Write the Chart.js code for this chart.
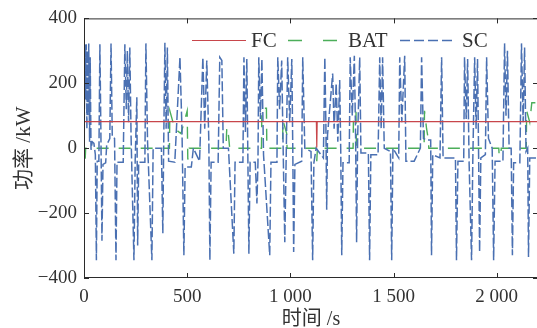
<!DOCTYPE html>
<html>
<head>
<meta charset="utf-8">
<script src="https://cdn.jsdelivr.net/npm/chart.js@4/dist/chart.umd.min.js"></script>
<style>
  html, body { margin: 0; padding: 0; background: #fff; overflow: hidden; }
  #wrap { width: 540px; height: 328px; position: relative; }
</style>
</head>
<body>
<div id="wrap"><canvas id="powerChart"></canvas></div>
<script>
// 燃料电池 FC 输出 (kW)
const fcTime  = [0, 1126, 1127, 1129, 1130, 2200];
const fcPower = [82, 82, 2, 2, 82, 82];

// 蓄电池 BAT 输出 (kW)
const batTime  = [0, 6, 8, 414, 416, 440, 470, 500, 503, 510, 688, 692, 700, 706,
                  860, 862, 884, 886, 962, 964, 982, 984, 1126, 1128, 1131,
                  1304, 1306, 1318, 1320, 1648, 1650, 1660, 1668, 1671,
                  2010, 2012, 2020, 2022, 2143, 2145, 2160, 2170, 2200];
const batPower = [-30, -30, 0, 0, 115, 60, 45, 115, -35, 0, 0, 65, 40, 0,
                  0, 123, 123, 0, 0, 86, 46, 0, 0, -40, 0,
                  0, 110, 110, 0, 0, 115, 60, 30, 0,
                  0, -25, -25, 0, 0, 115, 80, 140, 140];

// 超级电容 SC 输出 (kW)
const scTime  = [0, 5, 8, 11, 14, 17, 20, 23, 27, 30, 34, 40, 48, 55, 60, 64, 72, 77, 82, 87,
                 92, 105, 110, 125, 131, 137, 148, 155, 160, 190, 198, 205, 210, 216, 222, 228,
                 242, 248, 256, 260, 265, 295, 300, 308, 329, 335, 375, 382, 386, 392, 398, 404,
                 410, 440, 465, 475, 484, 490, 520, 530, 560, 576, 585, 595, 605, 610, 616, 650,
                 658, 668, 675, 700, 726, 732, 770, 775, 782, 789, 799, 805, 830, 838, 843, 847,
                 855, 862, 870, 900, 906, 935, 939, 948, 958, 965, 973, 980, 987, 997, 1007, 1012,
                 1016, 1022, 1055, 1060, 1070, 1100, 1108, 1114, 1125, 1160, 1167, 1172, 1176, 1180,
                 1205, 1212, 1222, 1230, 1239, 1244, 1249, 1255, 1285, 1290, 1300, 1310, 1316, 1321,
                 1326, 1336, 1342, 1378, 1384, 1390, 1425, 1433, 1440, 1447, 1455, 1485, 1491, 1497,
                 1525, 1530, 1540, 1554, 1560, 1600, 1630, 1636, 1645, 1660, 1680, 1684, 1690, 1725,
                 1733, 1740, 1775, 1800, 1805, 1812, 1840, 1844, 1852, 1859, 1866, 1878, 1884, 1893,
                 1900, 1907, 1912, 1917, 1923, 1945, 1951, 1960, 1978, 1985, 1992, 2030, 2038, 2045,
                 2052, 2060, 2070, 2076, 2082, 2112, 2120, 2128, 2135, 2142, 2150, 2154, 2160, 2200];
const scPower = [0, 320, 150, 320, 60, 300, 100, 323, 20, 280, -5, 20, 15, -20, -345, -40, -40, 320, 40, -285,
                 -50, -45, 10, 30, 323, 35, 30, -345, -43, -43, 320, 120, 300, 80, 310, 40,
                 -345, -40, 157, -300, -43, -43, 323, 20, -345, 0, 0, -262, 0, 325, 60, 310,
                 -40, -43, 280, 50, -330, -58, -58, 0, -40, 280, 60, 270, 20, -345, -43, -43,
                 280, 270, 0, 0, -325, -43, -43, 280, 50, 275, -325, -43, -43, -170, -43, 280,
                 90, 275, -20, -330, -43, -43, 280, 120, 270, 0, -290, -20, 280, 80, 275, -20,
                 -320, -50, -40, 280, 0, -10, -345, -45, 0, -30, 280, 80, -190, 40,
                 230, 60, 200, 20, 210, 0, -330, -45, -45, 280, 100, 285, 40, -290,
                 30, 280, -15, -15, -345, -20, -20, 280, 60, 280, 0, -10, -345, 0,
                 -30, 280, 80, 285, -40, -40, 0, 280, 30, 25, 25, -330, -20, -30,
                 280, -30, -30, -30, -345, -40, -40, 280, 90, 275, -40, -345, -40, 280,
                 60, 275, -10, -320, -30, -20, 280, 30, 0, -345, -40, -40, 323, 100,
                 300, 0, 0, -330, -45, -45, 323, 80, 310, -10, 0, -335, -30, -30];

const xTicks = [0, 500, 1000, 1500, 2000];
const xTickLabels = ['0', '500', '1 000', '1 500', '2 000'];
const yTicks = [-400, -200, 0, 200, 400];

const colors = {
    fc: '#c8464b',
    bat: '#4cae5a',
    sc: '#4a70b2',
    axis: '#2b2b2b'
};
const serif = "'Liberation Serif', 'DejaVu Serif', serif";
const cjk = "'Liberation Serif', 'Noto Sans CJK SC', serif";

const toPoints = (ts, vs) => ts.map((t, i) => ({ x: t, y: vs[i] }));

// 坐标框和朝内的刻度线
const framePlugin = {
    id: 'frame',
    afterDatasetsDraw(chart) {
        const { ctx, chartArea: a, scales } = chart;
        const len = 5;
        ctx.save();
        ctx.strokeStyle = colors.axis;
        ctx.lineWidth = 1;
        ctx.beginPath();
        ctx.rect(a.left + 0.5, a.top + 0.5, a.right - a.left - 1, a.bottom - a.top - 1);
        scales.x.ticks.forEach(t => {
            const px = Math.round(scales.x.getPixelForValue(t.value)) + 0.5;
            ctx.moveTo(px, a.bottom); ctx.lineTo(px, a.bottom - len);
            ctx.moveTo(px, a.top); ctx.lineTo(px, a.top + len);
        });
        scales.y.ticks.forEach(t => {
            const py = Math.round(scales.y.getPixelForValue(t.value)) + 0.5;
            ctx.moveTo(a.left, py); ctx.lineTo(a.left + len, py);
            ctx.moveTo(a.right, py); ctx.lineTo(a.right - len, py);
        });
        ctx.stroke();
        ctx.restore();
    }
};

// 图例画在绘图区内部上方
const legendPlugin = {
    id: 'innerLegend',
    afterDraw(chart) {
        const { ctx } = chart;
        const items = [
            { ds: chart.data.datasets[0], x0: 192, x1: 246, tx: 251 },
            { ds: chart.data.datasets[1], x0: 288, x1: 337, tx: 348 },
            { ds: chart.data.datasets[2], x0: 400, x1: 456, tx: 462 }
        ];
        const y = 40;
        ctx.save();
        ctx.fillStyle = '#fff';
        ctx.fillRect(186, 29, 308, 23);
        items.forEach(it => {
            ctx.strokeStyle = it.ds.borderColor;
            ctx.lineWidth = it.ds.borderWidth;
            ctx.setLineDash(it.ds.legendDash || []);
            ctx.beginPath();
            ctx.moveTo(it.x0, y + 0.5);
            ctx.lineTo(it.x1, y + 0.5);
            ctx.stroke();
            ctx.setLineDash([]);
            ctx.fillStyle = '#333';
            ctx.font = '21px ' + serif;
            ctx.textBaseline = 'middle';
            ctx.fillText(it.ds.label, it.tx, y + 1);
        });
        ctx.restore();
    }
};

new Chart(document.getElementById('powerChart'), {
    type: 'line',
    data: {
        datasets: [
            {
                label: 'FC',
                data: toPoints(fcTime, fcPower),
                borderColor: colors.fc,
                borderWidth: 1.2,
                order: 0
            },
            {
                label: 'BAT',
                data: toPoints(batTime, batPower),
                borderColor: colors.bat,
                borderWidth: 1.4,
                borderDash: [12, 10],
                legendDash: [14, 21],
                order: 2
            },
            {
                label: 'SC',
                data: toPoints(scTime, scPower),
                borderColor: colors.sc,
                borderWidth: 1.5,
                borderDash: [10, 3],
                legendDash: [10, 4],
                order: 1
            }
        ]
    },
    options: {
        responsive: true,
        maintainAspectRatio: false,
        animation: false,
        layout: { padding: { top: 18, right: 2, left: 0, bottom: 0 } },
        elements: { point: { radius: 0 }, line: { tension: 0, fill: false } },
        plugins: { legend: { display: false }, tooltip: { enabled: false } },
        scales: {
            x: {
                type: 'linear',
                min: 0,
                max: 2200,
                afterFit: s => { s.height = 50; },
                afterBuildTicks: s => { s.ticks = xTicks.map(v => ({ value: v })); },
                grid: { display: false, drawTicks: false },
                border: { display: false },
                ticks: {
                    color: '#333',
                    font: { family: serif, size: 19 },
                    padding: 8,
                    maxRotation: 0,
                    callback: v => xTickLabels[xTicks.indexOf(v)]
                },
                title: {
                    display: true,
                    text: '时间 /s',
                    color: '#333',
                    font: { family: cjk, size: 20, lineHeight: 1 },
                    padding: { top: 0, bottom: -2 }
                }
            },
            y: {
                min: -400,
                max: 400,
                afterFit: s => { s.width = 84; },
                afterBuildTicks: s => { s.ticks = yTicks.map(v => ({ value: v })); },
                grid: { display: false, drawTicks: false },
                border: { display: false },
                ticks: {
                    color: '#333',
                    font: { family: serif, size: 19 },
                    padding: 7,
                    callback: v => (v < 0 ? '\u2212' + Math.abs(v) : String(v))
                },
                title: {
                    display: true,
                    text: '功率 /kW',
                    color: '#333',
                    font: { family: cjk, size: 21, lineHeight: 1 },
                    padding: { top: 14, bottom: 0 }
                }
            }
        }
    },
    plugins: [framePlugin, legendPlugin]
});
</script>
</body>
</html>
